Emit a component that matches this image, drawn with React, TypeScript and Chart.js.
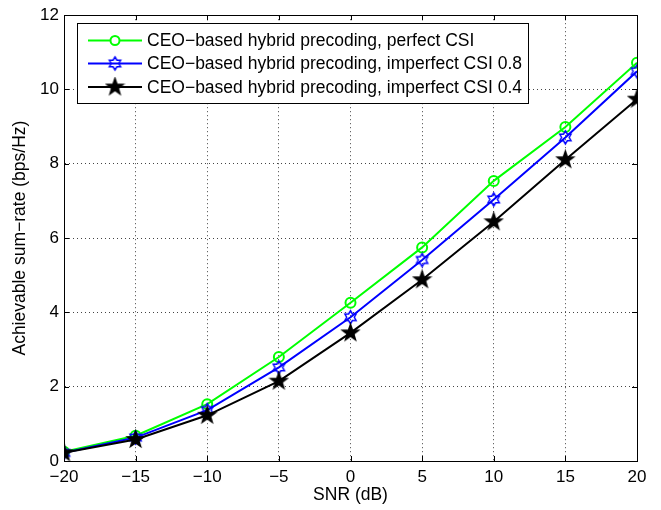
import React, { useEffect, useRef } from "react";
import { Chart, registerables } from "chart.js";

Chart.register(...registerables);

const snr = [-20, -15, -10, -5, 0, 5, 10, 15, 20];
const perfectCSI = [0.25, 0.68, 1.53, 2.8, 4.26, 5.75, 7.54, 8.99, 10.72];
const imperfect08 = [0.22, 0.63, 1.37, 2.52, 3.87, 5.41, 7.04, 8.71, 10.49];
const imperfect04 = [0.22, 0.58, 1.23, 2.15, 3.45, 4.88, 6.44, 8.11, 9.74];
const seriesLabels = [
  "CEO\u2212based hybrid precoding, perfect CSI",
  "CEO\u2212based hybrid precoding, imperfect CSI 0.8",
  "CEO\u2212based hybrid precoding, imperfect CSI 0.4",
];
const xTicks = [-20, -15, -10, -5, 0, 5, 10, 15, 20];
const yTicks = [0, 2, 4, 6, 8, 10, 12];

const FONT = "'Liberation Sans', Arial, Helvetica, sans-serif";

function makeStar(points: number, outer: number, inner: number, color: string, fill: boolean) {
  const size = Math.ceil(outer * 2 + 4);
  const c = document.createElement("canvas");
  c.width = size;
  c.height = size;
  const ctx = c.getContext("2d")!;
  const cx = size / 2;
  const cy = size / 2;
  ctx.beginPath();
  for (let i = 0; i < points * 2; i++) {
    const r = i % 2 === 0 ? outer : inner;
    const a = -Math.PI / 2 + (i * Math.PI) / points;
    const x = cx + r * Math.cos(a);
    const y = cy + r * Math.sin(a);
    if (i === 0) ctx.moveTo(x, y);
    else ctx.lineTo(x, y);
  }
  ctx.closePath();
  if (fill) {
    ctx.fillStyle = color;
    ctx.fill();
  }
  ctx.strokeStyle = color;
  ctx.lineWidth = 1.5;
  ctx.stroke();
  return c;
}

export default function App() {
  const ref = useRef<HTMLCanvasElement>(null);
  useEffect(() => {
    const pent = makeStar(5, 8.5, 3.4, "#000000", true);
    const hex = makeStar(6, 6.5, 3.8, "#0000ff", false);
    const markers: any[] = ["circle", hex, pent];
    const colors = ["#00ff00", "#0000ff", "#000000"];

    const framePlugin = {
      id: "frame",
      afterDraw(chart: any) {
        const { ctx, chartArea: a, scales } = chart;
        ctx.save();
        ctx.strokeStyle = "#000";
        ctx.lineWidth = 1;
        ctx.setLineDash([]);
        ctx.strokeRect(Math.round(a.left) + 0.5, Math.round(a.top) + 0.5, Math.round(a.right - a.left), Math.round(a.bottom - a.top));
        const tl = 5;
        ctx.beginPath();
        for (const v of xTicks) {
          const x = Math.round(scales.x.getPixelForValue(v)) + 0.5;
          ctx.moveTo(x, a.bottom);
          ctx.lineTo(x, a.bottom - tl);
          ctx.moveTo(x, a.top);
          ctx.lineTo(x, a.top + tl);
        }
        for (const v of yTicks) {
          const y = Math.round(scales.y.getPixelForValue(v)) + 0.5;
          ctx.moveTo(a.left, y);
          ctx.lineTo(a.left + tl, y);
          ctx.moveTo(a.right, y);
          ctx.lineTo(a.right - tl, y);
        }
        ctx.stroke();

        // legend
        const lx = 77.5, ly = 23.5, lw = 451, lh = 80;
        ctx.fillStyle = "#fff";
        ctx.fillRect(lx, ly, lw, lh);
        ctx.strokeStyle = "#000";
        ctx.lineWidth = 1;
        ctx.strokeRect(lx, ly, lw, lh);
        const rows = [40.5, 63.5, 87];
        ctx.font = "17.5px " + FONT;
        ctx.textBaseline = "middle";
        ctx.textAlign = "left";
        for (let i = 0; i < 3; i++) {
          const y = rows[i];
          ctx.strokeStyle = colors[i];
          ctx.lineWidth = 2;
          ctx.beginPath();
          ctx.moveTo(88, y);
          ctx.lineTo(142, y);
          ctx.stroke();
          const m = markers[i];
          if (m === "circle") {
            ctx.beginPath();
            ctx.arc(115, y, 4.5, 0, Math.PI * 2);
            ctx.fillStyle = "#fff";
            ctx.fill();
            ctx.lineWidth = 2;
            ctx.stroke();
          } else {
            ctx.drawImage(m, 115 - m.width / 2, y - m.height / 2);
          }
          ctx.fillStyle = "#000";
          ctx.fillText(seriesLabels[i], 147, y + 1);
        }
        ctx.restore();
      },
    };

    const mk = (i: number, data: number[]) => ({
      label: seriesLabels[i],
      data: snr.map((x, k) => ({ x, y: data[k] })),
      borderColor: colors[i],
      backgroundColor: colors[i],
      borderWidth: 2,
      pointStyle: markers[i],
      pointRadius: 5,
      pointBorderWidth: 2,
      pointBorderColor: colors[i],
      pointBackgroundColor: "rgba(255,255,255,0)",
      tension: 0,
    });

    const chart = new Chart(ref.current!, {
      type: "line",
      data: {
        datasets: [mk(2, imperfect04), mk(1, imperfect08), mk(0, perfectCSI)],
      },
      options: {
        responsive: false,
        animation: false,
        layout: { padding: { left: 0, right: 24, top: 9, bottom: 0 } },
        plugins: { legend: { display: false }, tooltip: { enabled: false } },
        scales: {
          x: {
            type: "linear",
            min: -20,
            max: 20,
            afterFit: (s: any) => {
              s.height = 49;
            },
            afterBuildTicks: (s: any) => {
              s.ticks = xTicks.map((v) => ({ value: v }));
            },
            ticks: {
              color: "#000",
              font: { family: FONT, size: 17 },
              padding: 6,
              maxRotation: 0,
              callback: (v: any) => (v < 0 ? "\u2212" + Math.abs(v) : String(v)),
            },
            grid: { color: "#444", drawTicks: false },
            border: { color: "#000", dash: [1, 3], display: true },
            title: {
              display: true,
              text: "SNR (dB)",
              color: "#000",
              font: { family: FONT, size: 17.5 },
              padding: { top: 0, bottom: 4 },
            },
          },
          y: {
            type: "linear",
            min: 0,
            max: 12,
            afterFit: (s: any) => {
              s.width = 64;
            },
            afterBuildTicks: (s: any) => {
              s.ticks = yTicks.map((v) => ({ value: v }));
            },
            ticks: {
              color: "#000",
              font: { family: FONT, size: 17 },
              padding: 5,
              callback: (v: any) => String(v),
            },
            grid: { color: "#444", drawTicks: false },
            border: { color: "#000", dash: [1, 3], display: true },
            title: {
              display: true,
              text: "Achievable sum\u2212rate (bps/Hz)",
              color: "#000",
              font: { family: FONT, size: 17.5 },
              padding: { top: 10, bottom: 0 },
            },
          },
        },
      } as any,
      plugins: [framePlugin],
    });
    return () => chart.destroy();
  }, []);
  return (
    <div style={{ position: "fixed", left: 0, top: 0, width: 661, height: 510, background: "#fff" }}>
      <canvas ref={ref} width={661} height={510} />
    </div>
  );
}
